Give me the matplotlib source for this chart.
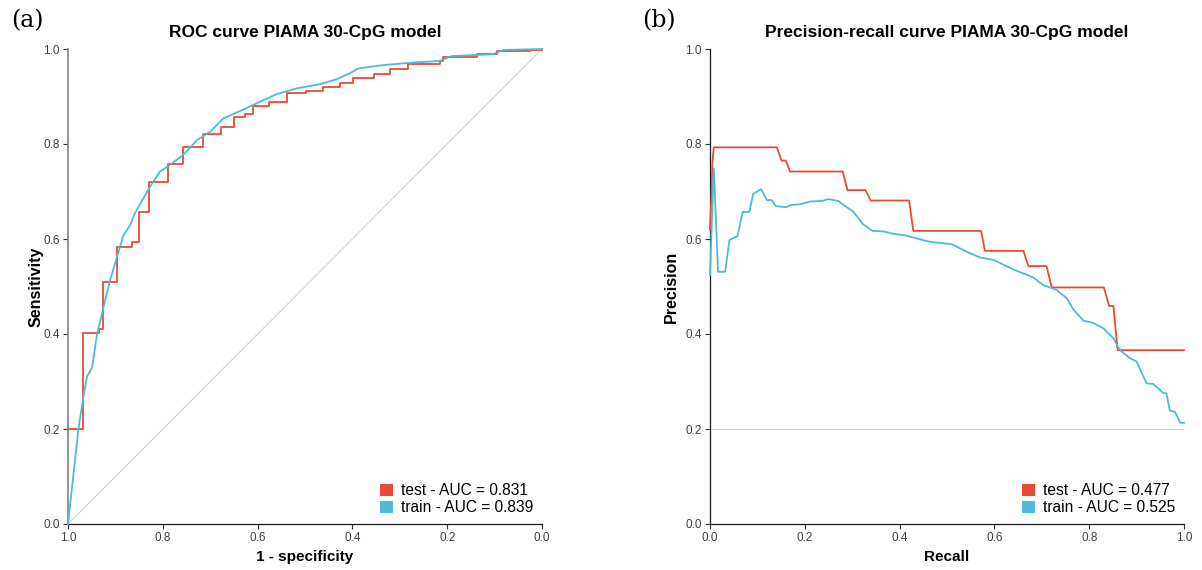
import matplotlib
matplotlib.use("Agg")
import matplotlib.pyplot as plt
from matplotlib.patches import Patch

RED = "#E64B35"
CYAN = "#4DBBD5"

# ---------------- ROC data (specificity, sensitivity) ----------------
roc_test_spec = [1.0, 0.968, 0.935, 0.926, 0.897, 0.866, 0.85, 0.829, 0.788, 0.757,
                 0.715, 0.678, 0.65, 0.627, 0.61, 0.576, 0.537, 0.497, 0.462, 0.426,
                 0.399, 0.355, 0.32, 0.282, 0.215, 0.209, 0.137, 0.095, 0.025, 0.0]
roc_test_sens = [0.2, 0.402, 0.41, 0.51, 0.584, 0.594, 0.657, 0.719, 0.758, 0.794,
                 0.821, 0.836, 0.857, 0.864, 0.879, 0.888, 0.908, 0.912, 0.919, 0.928,
                 0.938, 0.947, 0.957, 0.968, 0.975, 0.984, 0.989, 0.996, 0.998, 1.0]

roc_train_spec = [1.0, 0.978, 0.968, 0.96, 0.949, 0.939, 0.925, 0.911, 0.883, 0.869, 0.859,
                  0.827, 0.806, 0.785, 0.757, 0.728, 0.70, 0.672, 0.651, 0.595, 0.56,
                  0.518, 0.468, 0.434, 0.405, 0.388, 0.335, 0.278, 0.215, 0.191, 0.103,
                  0.082, 0.0]
roc_train_sens = [0.0, 0.2, 0.265, 0.31, 0.33, 0.398, 0.457, 0.514, 0.608, 0.629, 0.654,
                  0.71, 0.742, 0.756, 0.777, 0.808, 0.826, 0.854, 0.863, 0.889, 0.905,
                  0.917, 0.926, 0.936, 0.949, 0.959, 0.966, 0.971, 0.975, 0.985, 0.989,
                  0.998, 1.0]

# ---------------- PR data (recall, precision) ----------------
pr_test_rec = [0.0, 0.003, 0.005, 0.008, 0.141, 0.151, 0.16, 0.169, 0.28, 0.29, 0.328,
               0.339, 0.42, 0.429, 0.572, 0.58, 0.661, 0.672, 0.71, 0.721, 0.831, 0.842,
               0.851, 0.86, 1.0]
pr_test_prec = [0.62, 0.69, 0.76, 0.793, 0.793, 0.765, 0.765, 0.742, 0.742, 0.703, 0.703,
                0.681, 0.681, 0.617, 0.617, 0.575, 0.575, 0.543, 0.543, 0.498, 0.498, 0.459,
                0.459, 0.366, 0.366]

pr_train_rec = [0.0, 0.008, 0.017, 0.032, 0.041, 0.058, 0.069, 0.083, 0.091, 0.108, 0.12,
                0.13, 0.139, 0.16, 0.172, 0.19, 0.211, 0.236, 0.25, 0.271, 0.281, 0.302,
                0.322, 0.343, 0.366, 0.387, 0.415, 0.436, 0.464, 0.51, 0.542, 0.57, 0.598,
                0.64, 0.682, 0.703, 0.731, 0.753, 0.767, 0.788, 0.809, 0.83, 0.851, 0.865,
                0.886, 0.90, 0.921, 0.935, 0.956, 0.963, 0.97, 0.981, 0.992, 1.0]
pr_train_prec = [0.524, 0.749, 0.531, 0.531, 0.598, 0.606, 0.657, 0.657, 0.695, 0.705, 0.682,
                 0.682, 0.669, 0.667, 0.672, 0.673, 0.679, 0.68, 0.684, 0.68, 0.672, 0.658,
                 0.632, 0.617, 0.616, 0.611, 0.607, 0.601, 0.594, 0.589, 0.573, 0.561, 0.556,
                 0.536, 0.519, 0.503, 0.493, 0.475, 0.451, 0.428, 0.423, 0.412, 0.391, 0.366,
                 0.349, 0.342, 0.296, 0.295, 0.276, 0.275, 0.239, 0.236, 0.213, 0.213]

baseline_prec = 0.2
ticks = [0.0, 0.2, 0.4, 0.6, 0.8, 1.0]
tick_labels = ["0.0", "0.2", "0.4", "0.6", "0.8", "1.0"]
roc_legend = ["test - AUC = 0.831", "train - AUC = 0.839"]
pr_legend = ["test - AUC = 0.477", "train - AUC = 0.525"]

W, H = 1202, 570
fig = plt.figure(figsize=(W / 100, H / 100), dpi=100)
plt.rcParams['font.family'] = ['Liberation Sans', 'DejaVu Sans']


def make_ax(x0, x1, left_color):
    ax = fig.add_axes([x0 / W, (H - 524) / H, (x1 - x0) / W, (524 - 49) / H])
    for s in ["top", "right"]:
        ax.spines[s].set_visible(False)
    ax.spines["bottom"].set_color("#1a1a1a")
    ax.spines["bottom"].set_linewidth(0.9)
    ax.spines["left"].set_color(left_color)
    ax.spines["left"].set_linewidth(1.3 if left_color != "#1a1a1a" else 0.9)
    ax.set_ylim(0, 1)
    ax.set_xticks(ticks)
    ax.set_yticks(ticks)
    ax.set_xticklabels(tick_labels)
    ax.set_yticklabels(tick_labels)
    ax.tick_params(axis="both", direction="out", length=3.5, width=0.8, color="#333333",
                   labelsize=8.5, labelcolor="#404040", pad=2.5)
    return ax


def legend(ax, labels):
    handles = [Patch(facecolor=RED, edgecolor="none"), Patch(facecolor=CYAN, edgecolor="none")]
    ax.legend(handles, labels, loc="lower right", bbox_to_anchor=(1.0, 0.0), frameon=False,
              fontsize=11.2, handlelength=0.8, handleheight=0.8, handletextpad=0.55,
              labelspacing=0.15, borderaxespad=0.15)


# ---------------- ROC panel ----------------
ax1 = make_ax(68, 542, "#8a8a8a")
ax1.set_xlim(1, 0)
ax1.plot([1, 0], [0, 1], color="#CCCCCC", lw=0.7, zorder=1)
ax1.plot(roc_test_spec, roc_test_sens, color=RED, lw=1.3, drawstyle="steps-post",
         clip_on=False, zorder=3)
ax1.plot(roc_train_spec, roc_train_sens, color=CYAN, lw=1.3, clip_on=False, zorder=4)
ax1.text(0.5, 1 + 16 / 475, "ROC curve PIAMA 30-CpG model",
         transform=ax1.transAxes, ha="center", va="center", fontsize=12.5, fontweight="bold")
ax1.text(0.5, -33 / 475, "1 - specificity", transform=ax1.transAxes, ha="center",
         va="center", fontsize=11, fontweight="bold")
ax1.text(-32 / 474, 0.5, "Sensitivity", transform=ax1.transAxes, ha="center",
         va="center", rotation=90, fontsize=11.5, fontweight="bold")
legend(ax1, roc_legend)

# ---------------- PR panel ----------------
ax2 = make_ax(710, 1184, "#1a1a1a")
ax2.set_xlim(0, 1)
ax2.axhline(baseline_prec, color="#CCCCCC", lw=0.8, zorder=1)
ax2.plot(pr_test_rec, pr_test_prec, color=RED, lw=1.3, clip_on=False, zorder=3)
ax2.plot(pr_train_rec, pr_train_prec, color=CYAN, lw=1.3, clip_on=False, zorder=4)
ax2.text(0.5, 1 + 16 / 475, "Precision-recall curve PIAMA 30-CpG model",
         transform=ax2.transAxes, ha="center", va="center", fontsize=12.5, fontweight="bold")
ax2.text(0.5, -33 / 475, "Recall", transform=ax2.transAxes, ha="center",
         va="center", fontsize=11, fontweight="bold")
ax2.text(-39 / 474, 0.5, "Precision", transform=ax2.transAxes, ha="center",
         va="center", rotation=90, fontsize=11.5, fontweight="bold")
legend(ax2, pr_legend)

# panel labels
fig.text(11 / W, 1 - 21 / H, "(a)", ha="left", va="center", fontsize=17, family="DejaVu Serif")
fig.text(642 / W, 1 - 21 / H, "(b)", ha="left", va="center", fontsize=17, family="DejaVu Serif")

fig.savefig("out.png", dpi=100)
